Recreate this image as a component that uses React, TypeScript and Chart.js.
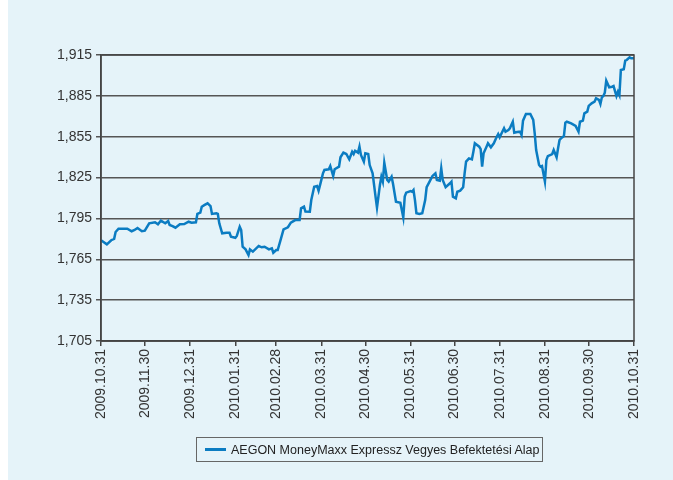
import React, { useEffect, useRef } from "react";
import { Chart, registerables } from "chart.js";

Chart.register(...registerables);

// Days since 2009-10-31 for each observation
const dayOffsets = [
  0, 4, 7, 9, 10, 12, 15, 18, 21, 23, 25, 28, 30, 33, 37, 39, 41, 44, 46, 47, 49, 51, 54, 57, 60, 62, 65, 66, 68, 69,
  71, 73, 75, 76, 79, 80, 81, 83, 86, 88, 89, 92, 93, 95, 96, 97, 99, 101, 102, 104, 108, 110, 112, 115, 117, 118, 120, 121, 123, 125,
  128, 130, 133, 136, 137, 139, 140, 143, 144, 146, 148, 149, 150, 152, 153, 156, 157, 159, 160, 163, 164, 166, 168, 170, 172, 173, 174, 176, 177, 178,
  180, 181, 183, 184, 186, 188, 189, 191, 192, 193, 194, 196, 197, 199, 200, 202, 205, 207, 208, 209, 212, 213, 214, 215, 216, 218, 220, 222, 223, 225,
  227, 229, 230, 232, 233, 234, 236, 239, 240, 241, 243, 244, 246, 248, 249, 250, 252, 254, 255, 256, 259, 260, 261, 262, 264, 265, 267, 269, 271, 272,
  273, 276, 277, 279, 280, 282, 283, 285, 287, 288, 289, 291, 294, 296, 297, 298, 300, 301, 302, 304, 305, 306, 309, 310, 312, 313, 314, 315, 317, 318,
  319, 322, 325, 327, 328, 330, 331, 333, 334, 336, 338, 339, 341, 342, 343, 344, 345, 346, 348, 350, 351, 353, 354, 355, 356, 358, 359, 360, 362, 363, 365,
];

// Net asset value per unit
const navValues = [
  1.779, 1.776, 1.779, 1.78, 1.785, 1.7875, 1.7875, 1.7875, 1.7856, 1.7865, 1.788, 1.7856, 1.786, 1.7914, 1.7922, 1.7907, 1.7933, 1.7914, 1.7931, 1.7902, 1.7894, 1.7882, 1.7907, 1.7909, 1.7926, 1.7919, 1.7922, 1.7983, 1.7992, 1.8036,
  1.8049, 1.8061, 1.8041, 1.7983, 1.7988, 1.7983, 1.7914, 1.7841, 1.7845, 1.7845, 1.7816, 1.7808, 1.7821, 1.7889, 1.7865, 1.7742, 1.7723, 1.7681, 1.7723, 1.7706, 1.7748, 1.7738, 1.7742, 1.7723, 1.7731, 1.7698, 1.7718, 1.7718, 1.7792, 1.787,
  1.7885, 1.7919, 1.7938, 1.7938, 1.8024, 1.8036, 1.8, 1.7999, 1.8085, 1.8183, 1.8188, 1.8154, 1.8195, 1.8281, 1.8306, 1.8311, 1.8335, 1.8262, 1.8311, 1.833, 1.8399, 1.8433, 1.8423, 1.8384, 1.844, 1.8423, 1.8447, 1.8433, 1.8477, 1.8416,
  1.8367, 1.8428, 1.8423, 1.8342, 1.8281, 1.811, 1.8029, 1.8195, 1.8256, 1.822, 1.8359, 1.8232, 1.822, 1.8256, 1.8203, 1.8073, 1.8065, 1.7958, 1.811, 1.8139, 1.8151, 1.8146, 1.8159, 1.8085, 1.7988, 1.7983, 1.7988, 1.8085, 1.8179, 1.822,
  1.8262, 1.8281, 1.8232, 1.8227, 1.8318, 1.8232, 1.8179, 1.8208, 1.822, 1.811, 1.8098, 1.8146, 1.8154, 1.8179, 1.8281, 1.8367, 1.8391, 1.8384, 1.844, 1.8502, 1.8477, 1.8458, 1.833, 1.8428, 1.8477, 1.8502, 1.8472, 1.8502, 1.855, 1.857,
  1.8546, 1.8612, 1.8587, 1.8599, 1.8612, 1.866, 1.8579, 1.8585, 1.8587, 1.8563, 1.8668, 1.8717, 1.8717, 1.8673, 1.8575, 1.8452, 1.8342, 1.833, 1.8335, 1.822, 1.8379, 1.8408, 1.8423, 1.8452, 1.8399, 1.8465, 1.8526, 1.8538, 1.8555, 1.8653,
  1.866, 1.8648, 1.8629, 1.8587, 1.866, 1.8668, 1.8722, 1.8734, 1.8776, 1.8795, 1.8807, 1.8832, 1.882, 1.879, 1.8839, 1.8849, 1.8873, 1.8961, 1.8913, 1.8917, 1.8922, 1.8849, 1.8881, 1.8856, 1.904, 1.9045, 1.9108, 1.9113, 1.9133, 1.9126, 1.9126,
];

const monthEndDays = [0, 30, 61, 92, 120, 151, 181, 212, 242, 273, 304, 334, 365];
const monthEndLabels = [
  "2009.10.31", "2009.11.30", "2009.12.31", "2010.01.31", "2010.02.28", "2010.03.31", "2010.04.30",
  "2010.05.31", "2010.06.30", "2010.07.31", "2010.08.31", "2010.09.30", "2010.10.31",
];
const yTickValues = [1.705, 1.735, 1.765, 1.795, 1.825, 1.855, 1.885, 1.915];

const seriesName = "AEGON MoneyMaxx Expressz Vegyes Befektetési Alap";
const lineColor = "#0b7cc2";
const bgColor = "#e5f3f9";
const fontFamily = "'Liberation Sans', Arial, sans-serif";

const frame = {
  id: "frame",
  afterDatasetsDraw(chart: any) {
    const { ctx, chartArea } = chart;
    ctx.save();
    ctx.strokeStyle = "#444";
    ctx.lineWidth = 1.5;
    ctx.strokeRect(chartArea.left, chartArea.top, chartArea.right - chartArea.left, chartArea.bottom - chartArea.top);
    ctx.restore();
  },
};

export default function App() {
  const ref = useRef<HTMLCanvasElement>(null);

  useEffect(() => {
    if (!ref.current) return;
    const points = dayOffsets.map((d, i) => ({ x: d, y: navValues[i] }));
    const chart = new Chart(ref.current, {
      type: "line",
      data: {
        datasets: [
          {
            label: seriesName,
            data: points,
            borderColor: lineColor,
            borderWidth: 2.5,
            pointRadius: 0,
            tension: 0,
            fill: false,
          },
        ],
      },
      options: {
        animation: false,
        responsive: false,
        maintainAspectRatio: false,
        layout: { padding: { left: 0, top: 55, right: 39, bottom: 0 } },
        plugins: { legend: { display: false }, tooltip: { enabled: false } },
        scales: {
          x: {
            type: "linear",
            min: 0,
            max: 365,
            afterBuildTicks: (scale: any) => {
              scale.ticks = monthEndDays.map((v) => ({ value: v }));
            },
            afterFit: (scale: any) => {
              scale.height = 139;
            },
            grid: { display: true, drawOnChartArea: false, drawTicks: true, tickLength: 5, color: "#444", lineWidth: 1.5 },
            border: { display: true, color: "#444", width: 1.5 },
            ticks: {
              autoSkip: false,
              minRotation: 90,
              maxRotation: 90,
              padding: 3,
              color: "#333",
              font: { family: fontFamily, size: 14 },
              callback: (value: any) => {
                const i = monthEndDays.indexOf(Number(value));
                return i >= 0 ? monthEndLabels[i] : "";
              },
            },
          },
          y: {
            type: "linear",
            min: 1.705,
            max: 1.915,
            afterBuildTicks: (scale: any) => {
              scale.ticks = yTickValues.map((v) => ({ value: v }));
            },
            afterFit: (scale: any) => {
              scale.width = 93;
            },
            grid: { color: "#555", lineWidth: 1.5, tickLength: 5, drawTicks: true },
            border: { display: true, color: "#444", width: 1.5 },
            ticks: {
              padding: 4,
              color: "#333",
              font: { family: fontFamily, size: 14 },
              callback: (value: any) => Number(value).toFixed(3).replace(".", ","),
            },
          },
        },
      },
      plugins: [frame],
    });
    return () => chart.destroy();
  }, []);

  return (
    <div
      style={{
        position: "fixed",
        left: 8,
        top: 0,
        width: 665,
        height: 480,
        background: bgColor,
      }}
    >
      <canvas ref={ref} width={665} height={480} style={{ position: "absolute", left: 0, top: 0 }} />
      <div
        style={{
          position: "absolute",
          left: 188,
          top: 437,
          width: 347,
          height: 25,
          border: "1px solid #666",
          boxSizing: "border-box",
          display: "flex",
          alignItems: "center",
          fontFamily,
          fontSize: 12.5,
          color: "#222",
          whiteSpace: "nowrap",
        }}
      >
        <span style={{ display: "inline-block", width: 21, height: 2.5, background: lineColor, marginLeft: 8, marginRight: 5 }} />
        <span>{seriesName}</span>
      </div>
    </div>
  );
}
